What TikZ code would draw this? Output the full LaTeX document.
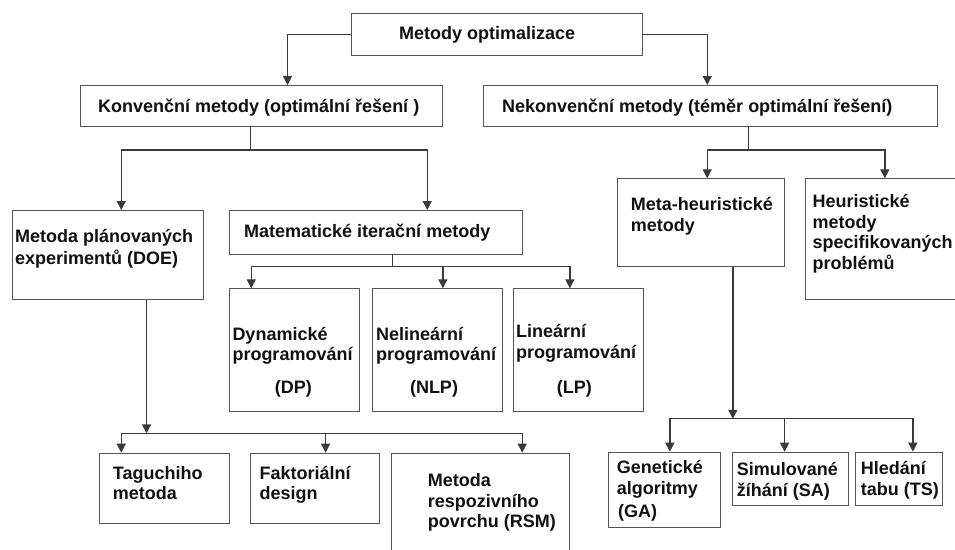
\documentclass[tikz,border=0pt]{standalone}
\usepackage{fontspec}
\setmainfont{Liberation Sans}
\usetikzlibrary{arrows.meta}
\definecolor{boxc}{HTML}{555555}
\definecolor{linec}{HTML}{3A3A3A}
\definecolor{txtc}{HTML}{111111}
\tikzset{
  box/.style={draw=boxc, line width=1.1pt, rectangle, inner sep=0pt, anchor=north west},
  lbl/.style={anchor=base west, inner sep=0pt, font=\fontsize{18}{21}\selectfont\bfseries, text=txtc},
  lblc/.style={lbl, anchor=base},
  conn/.style={draw=linec, line width=1.3pt},
  arr/.style={conn, -{Triangle[length=9pt,width=9pt]}}
}
\begin{document}
\begin{tikzpicture}[x=1pt,y=-1pt]
\useasboundingbox (0,0) rectangle (955,549);
\fill[white] (0,0) rectangle (955,549);
\clip (0,0) rectangle (955,549);

% boxes
\node[box, minimum width=291pt, minimum height=42pt] (top) at (351,13) {};
\node[box, minimum width=362pt, minimum height=41pt] (konv) at (80,85) {};
\node[box, minimum width=454pt, minimum height=41pt] (nekonv) at (483,85) {};
\node[box, minimum width=191pt, minimum height=89pt] (doe) at (12,210) {};
\node[box, minimum width=293pt, minimum height=44pt] (mat) at (228.7,210) {};
\node[box, minimum width=130pt, minimum height=122.4pt] (dp) at (228.7,288.3) {};
\node[box, minimum width=130pt, minimum height=122.4pt] (nlp) at (372.3,288.3) {};
\node[box, minimum width=130pt, minimum height=122.4pt] (lp) at (512.7,288.3) {};
\node[box, minimum width=130pt, minimum height=70.6pt] (tag) at (98.7,452.7) {};
\node[box, minimum width=129pt, minimum height=70.6pt] (fak) at (250.3,452.7) {};
\node[box, minimum width=178.3pt, minimum height=110pt] (rsm) at (391,452.7) {};
\node[box, minimum width=166.7pt, minimum height=87.4pt] (meta) at (617.3,178.3) {};
\node[box, minimum width=158pt, minimum height=121pt] (heur) at (805.3,178.3) {};
\node[box, minimum width=112pt, minimum height=75.6pt] (ga) at (607.7,451.7) {};
\node[box, minimum width=115.7pt, minimum height=53.3pt] (sa) at (732,451.7) {};
\node[box, minimum width=87pt, minimum height=53.3pt] (ts) at (855.3,451.7) {};

% texts
\node[lbl] (t-top) at (399,39.3) {Metody optimalizace};
\node[lbl] (t-konv) at (98,112.7) {Konvenční metody (optimální řešení )};
\node[lbl] (t-nekonv) at (502,112.7) {Nekonvenční metody (téměr optimální řešení)};
\node[lbl] (t-doe1) at (15,242.7) {Metoda plánovaných};
\node[lbl] (t-doe2) at (15,264.3) {experimentů (DOE)};
\node[lbl] (t-mat) at (244,237) {Matematické iterační metody};
\node[lbl] (t-dp1) at (232.3,340.3) {Dynamické};
\node[lbl] (t-dp2) at (232.3,360.3) {programování};
\node[lblc] (t-dp3) at (293.3,393.7) {(DP)};
\node[lbl] (t-nlp1) at (376,340.3) {Nelineární};
\node[lbl] (t-nlp2) at (376,360.3) {programování};
\node[lblc] (t-nlp3) at (434,393.7) {(NLP)};
\node[lbl] (t-lp1) at (516,337.7) {Lineární};
\node[lbl] (t-lp2) at (516,358.3) {programování};
\node[lblc] (t-lp3) at (574.3,393.3) {(LP)};
\node[lbl] (t-tag1) at (112.7,479.3) {Taguchiho};
\node[lbl] (t-tag2) at (112.7,499.3) {metoda};
\node[lbl] (t-fak1) at (259.3,479.3) {Faktoriální};
\node[lbl] (t-fak2) at (259.3,499.3) {design};
\node[lbl] (t-rsm1) at (427.7,486) {Metoda};
\node[lbl] (t-rsm2) at (427.7,507.7) {respozivního};
\node[lbl] (t-rsm3) at (427.7,527.7) {povrchu (RSM)};
\node[lbl] (t-meta1) at (630.7,210) {Meta-heuristické};
\node[lbl] (t-meta2) at (630.7,231) {metody};
\node[lbl] (t-heur1) at (812.3,207.7) {Heuristické};
\node[lbl] (t-heur2) at (812.3,228.7) {metody};
\node[lbl] (t-heur3) at (812.3,248.7) {specifikovaných};
\node[lbl] (t-heur4) at (812.3,269.3) {problémů};
\node[lbl] (t-ga1) at (616.7,473.3) {Genetické};
\node[lbl] (t-ga2) at (616.7,494.3) {algoritmy};
\node[lbl] (t-ga3) at (618,517.7) {(GA)};
\node[lbl] (t-sa1) at (736.7,475.3) {Simulované};
\node[lbl] (t-sa2) at (736.7,496) {žíhání (SA)};
\node[lbl] (t-ts1) at (860.7,474.3) {Hledání};
\node[lbl] (t-ts2) at (860.7,495) {tabu (TS)};

% connectors
\draw[arr] (top.west) -| ([xshift=26pt]konv.north);
\draw[arr] (top.east) -| ([xshift=-3.3pt]nekonv.north);

\draw[conn] ([xshift=-11pt]konv.south) -- ++(0,23) coordinate (kbus);
\draw[arr] (kbus) -| ([xshift=13.2pt]doe.north);
\draw[arr] (kbus) -| ([xshift=51.5pt]mat.north);

\draw[conn] ([xshift=38pt]nekonv.south) -- ++(0,23) coordinate (nbus);
\draw[arr] (nbus) -| ([xshift=6pt]meta.north);
\draw[arr] (nbus) -| (heur.north);

\draw[conn] ([xshift=16.5pt]mat.south) -- ++(0,11.7) coordinate (mbus);
\draw[arr] (mbus) -| ([xshift=-43pt]dp.north);
\draw[arr] (mbus) -| ([xshift=5pt]nlp.north);
\draw[arr] (mbus) -| ([xshift=-8.4pt]lp.north);

\draw[arr] ([xshift=38.5pt]doe.south) -- ++(0,133.3) coordinate (dbus);
\draw[arr] (dbus) -| ([xshift=-43pt]tag.north);
\draw[arr] (dbus) -| ([xshift=10.2pt]fak.north);
\draw[arr] (dbus) -| ([xshift=41.5pt]rsm.north);

\draw[arr] ([xshift=31.65pt]meta.south) -- ++(0,152) coordinate (gbus);
\draw[arr] (gbus) -| ([xshift=5.6pt]ga.north);
\draw[arr] (gbus) -| ([xshift=-5.85pt]sa.north);
\draw[arr] (gbus) -| ([xshift=13.5pt]ts.north);
\end{tikzpicture}
\end{document}
